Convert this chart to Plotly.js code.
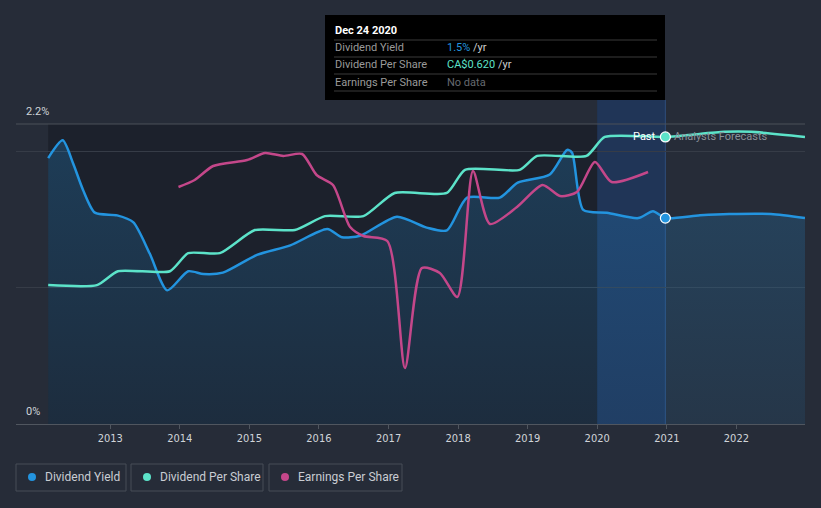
<!DOCTYPE html>
<html>
<head>
<meta charset="utf-8">
<script src="https://cdn.plot.ly/plotly-3.0.1.min.js"></script>
<style>
  html, body { margin: 0; padding: 0; background: #262c38; }
  #chart { width: 821px; height: 508px; }
</style>
</head>
<body>
<div id="chart"></div>
<script>
// ---- Data ----
const yieldDates = ['2012-02-10','2012-04-26','2012-06-20','2012-08-10','2012-10-12','2013-02-06','2013-05-01','2013-07-27','2013-10-27','2014-02-14','2014-05-05','2014-08-15','2015-02-10','2015-08-04','2016-02-14','2016-05-01','2016-08-04','2017-02-14','2017-07-20','2017-11-03','2018-02-17','2018-08-08','2018-11-10','2019-04-27','2019-07-27','2019-08-22','2019-10-20','2020-02-21','2020-08-04','2020-10-20','2020-12-24','2021-06-24','2021-11-24','2022-07-01','2022-12-27'];
const yieldValues = [1.95,2.08,1.91,1.72,1.55,1.53,1.48,1.25,0.98,1.12,1.10,1.11,1.24,1.31,1.43,1.37,1.38,1.52,1.44,1.42,1.66,1.66,1.77,1.83,2.01,1.99,1.57,1.55,1.51,1.56,1.51,1.53,1.54,1.54,1.51];

const dpsDates = ['2012-02-10','2012-10-23','2013-02-10','2013-11-10','2014-02-14','2014-07-30','2015-01-30','2015-08-28','2016-02-02','2016-08-22','2017-02-02','2017-11-03','2018-02-06','2018-11-20','2019-02-20','2019-11-06','2020-02-10','2020-12-24','2021-10-30','2022-03-20','2022-12-27'];
const dpsValues = [0.300,0.300,0.330,0.330,0.369,0.369,0.419,0.419,0.449,0.449,0.499,0.499,0.549,0.549,0.579,0.579,0.620,0.620,0.631,0.631,0.620];

const epsDates = ['2013-12-25','2014-03-20','2014-06-25','2014-12-20','2015-03-25','2015-06-28','2015-10-05','2015-12-20','2016-03-15','2016-06-13','2016-08-22','2016-12-25','2017-03-28','2017-06-25','2017-09-27','2017-12-28','2018-03-20','2018-06-17','2018-11-06','2019-03-20','2019-06-20','2019-09-17','2019-12-20','2020-03-17','2020-09-24'];
const epsValues = [2.37,2.44,2.58,2.64,2.71,2.68,2.70,2.49,2.39,1.97,1.88,1.83,0.56,1.56,1.51,1.27,2.53,2.00,2.17,2.39,2.28,2.32,2.62,2.42,2.52];

const tickDates = ['2013-01-01','2014-01-01','2015-01-01','2016-01-01','2017-01-01','2018-01-01','2019-01-01','2020-01-01','2021-01-01','2022-01-01'];
const tickLabels = ['2013','2014','2015','2016','2017','2018','2019','2020','2021','2022'];

const hoverDate = '2020-12-24';
const hoverTitle = 'Dec 24 2020';
const seriesNames = ['Dividend Yield','Dividend Per Share','Earnings Per Share'];
const hoverValues = ['1.5%','CA$0.620','No data'];

// ---- Styling ----
const C_YIELD = '#2394df', C_DPS = '#5ce3c9', C_EPS = '#c4478a';
const W = 821, H = 508, L = 16, R = 16, T = 124, B = 84;
const PW = W - L - R, PH = H - T - B;
const px = x => (x - L) / PW;          // pixel -> paper x
const py = y => (H - B - y) / PH;      // pixel -> paper y

const hi = yieldDates.indexOf(hoverDate);
const hd = dpsDates.indexOf(hoverDate);

const traces = [
  {x: yieldDates, y: yieldValues, type: 'scatter', mode: 'lines', yaxis: 'y',
   line: {color: C_YIELD, width: 2.5, shape: 'spline', smoothing: 0.7},
   fill: 'tozeroy',
   fillgradient: {type: 'vertical', colorscale: [[0, 'rgba(35,148,223,0.10)'], [1, 'rgba(35,148,223,0.24)']]},
   hoverinfo: 'skip', showlegend: false},
  {x: dpsDates, y: dpsValues, type: 'scatter', mode: 'lines', yaxis: 'y2',
   line: {color: C_DPS, width: 2.5, shape: 'spline', smoothing: 0.6},
   hoverinfo: 'skip', showlegend: false},
  {x: epsDates, y: epsValues, type: 'scatter', mode: 'lines', yaxis: 'y3',
   line: {color: C_EPS, width: 2.5, shape: 'spline', smoothing: 0.7},
   hoverinfo: 'skip', showlegend: false},
  {x: [yieldDates[hi]], y: [yieldValues[hi]], type: 'scatter', mode: 'markers', yaxis: 'y',
   marker: {color: C_YIELD, size: 10, line: {color: '#ffffff', width: 1.2}}, hoverinfo: 'skip', showlegend: false},
  {x: [dpsDates[hd]], y: [dpsValues[hd]], type: 'scatter', mode: 'markers', yaxis: 'y2',
   marker: {color: C_DPS, size: 10, line: {color: '#ffffff', width: 1.2}}, hoverinfo: 'skip', showlegend: false}
];

const shapes = [
  // past region darker
  {type: 'rect', xref: 'x', yref: 'paper', x0: yieldDates[0], x1: '2020-01-01', y0: 0, y1: 1,
   fillcolor: 'rgba(10,12,18,0.32)', line: {width: 0}, layer: 'below'},
  // last-year highlight band
  {type: 'rect', xref: 'x', yref: 'paper', x0: '2020-01-01', x1: hoverDate, y0: 0, y1: py(100),
   fillcolor: 'rgba(20,75,160,0.30)', line: {width: 0}, layer: 'below'},
  // hover vertical line
  {type: 'line', xref: 'x', yref: 'paper', x0: hoverDate, x1: hoverDate, y0: 0, y1: py(100),
   line: {color: 'rgba(60,115,190,0.45)', width: 1}, layer: 'below'},
  // top 2.2% line
  {type: 'line', xref: 'paper', yref: 'paper', x0: 0, x1: 1, y0: 1, y1: 1,
   line: {color: '#4a5059', width: 1}},
  // tooltip box
  {type: 'rect', xref: 'paper', yref: 'paper', x0: px(325), x1: px(665), y0: py(100), y1: py(15),
   fillcolor: '#000000', line: {width: 0}}
];
[40, 57, 74, 91].forEach(y => shapes.push({type: 'line', xref: 'paper', yref: 'paper',
  x0: px(334), x1: px(657), y0: py(y), y1: py(y), line: {color: '#3a3a3a', width: 1}}));

// legend boxes
const legBoxes = [[16, 126], [131, 263], [269, 402]];
const legColors = [C_YIELD, C_DPS, C_EPS];
legBoxes.forEach((b, i) => {
  shapes.push({type: 'rect', xref: 'paper', yref: 'paper', x0: px(b[0]), x1: px(b[1]), y0: py(491), y1: py(464),
    fillcolor: 'rgba(0,0,0,0)', line: {color: '#474d57', width: 1}});
  shapes.push({type: 'circle', xref: 'paper', yref: 'paper', x0: px(b[0] + 12), x1: px(b[0] + 20), y0: py(481), y1: py(473),
    fillcolor: legColors[i], line: {width: 0}});
});

const FONT = 'Roboto, "Noto Sans", sans-serif';
const annotations = [
  {xref: 'paper', yref: 'paper', x: px(24), y: py(112), xanchor: 'left', yanchor: 'middle', text: '2.2%', showarrow: false,
   font: {family: FONT, size: 11, color: '#d0d4d9'}},
  {xref: 'paper', yref: 'paper', x: px(24), y: py(411), xanchor: 'left', yanchor: 'middle', text: '0%', showarrow: false,
   font: {family: FONT, size: 11, color: '#d0d4d9'}},
  {xref: 'paper', yref: 'paper', x: px(658), y: py(136), xanchor: 'right', yanchor: 'middle', text: 'Past', showarrow: false,
   font: {family: FONT, size: 11, color: '#ffffff'}},
  {xref: 'paper', yref: 'paper', x: px(672), y: py(136), xanchor: 'left', yanchor: 'middle', text: 'Analysts Forecasts', showarrow: false,
   font: {family: FONT, size: 11, color: '#8a9099'}},
  // tooltip
  {xref: 'paper', yref: 'paper', x: px(333), y: py(31), xanchor: 'left', yanchor: 'middle', text: '<b>' + hoverTitle + '</b>', showarrow: false,
   font: {family: FONT, size: 11, color: '#ffffff'}}
];
const rowY = [48, 65, 82];
const valColors = [C_YIELD, C_DPS, '#666a70'];
seriesNames.forEach((n, i) => {
  annotations.push({xref: 'paper', yref: 'paper', x: px(333), y: py(rowY[i]), xanchor: 'left', yanchor: 'middle', text: n, showarrow: false,
    font: {family: FONT, size: 11, color: '#9a9a9a'}});
  const v = i < 2 ? '<span style="color:' + valColors[i] + '">' + hoverValues[i] + '</span> /yr'
                  : '<span style="color:' + valColors[i] + '">' + hoverValues[i] + '</span>';
  annotations.push({xref: 'paper', yref: 'paper', x: px(445), y: py(rowY[i]), xanchor: 'left', yanchor: 'middle', text: v, showarrow: false,
    font: {family: FONT, size: 11, color: '#cfcfcf'}});
  annotations.push({xref: 'paper', yref: 'paper', x: px(legBoxes[i][0] + 27), y: py(477), xanchor: 'left', yanchor: 'middle', text: n, showarrow: false,
    font: {family: FONT, size: 12, color: '#c9cdd3'}});
});

const layout = {
  width: W, height: H,
  margin: {l: L, r: R, t: T, b: B},
  paper_bgcolor: '#262c38', plot_bgcolor: '#262c38',
  showlegend: false,
  hovermode: false,
  xaxis: {type: 'date', range: ['2011-08-25', '2022-12-27'], tickvals: tickDates, ticktext: tickLabels,
    showgrid: false, zeroline: false, showline: true, linecolor: '#50565f', linewidth: 1,
    ticks: 'outside', ticklen: 4, tickcolor: '#50565f',
    tickfont: {family: '"DejaVu Sans Condensed", "Liberation Sans Narrow", Roboto, sans-serif', size: 11, color: '#d0d4d9'}},
  yaxis: {range: [0, 2.2], tickvals: [1, 2], showticklabels: false, gridcolor: '#363c47', zeroline: false, showline: false, ticks: ''},
  yaxis2: {range: [0, 0.648], overlaying: 'y', visible: false},
  yaxis3: {range: [0, 3.0], overlaying: 'y', visible: false},
  shapes: shapes,
  annotations: annotations
};

Plotly.newPlot('chart', traces, layout, {displayModeBar: false, staticPlot: true});
</script>
</body>
</html>
